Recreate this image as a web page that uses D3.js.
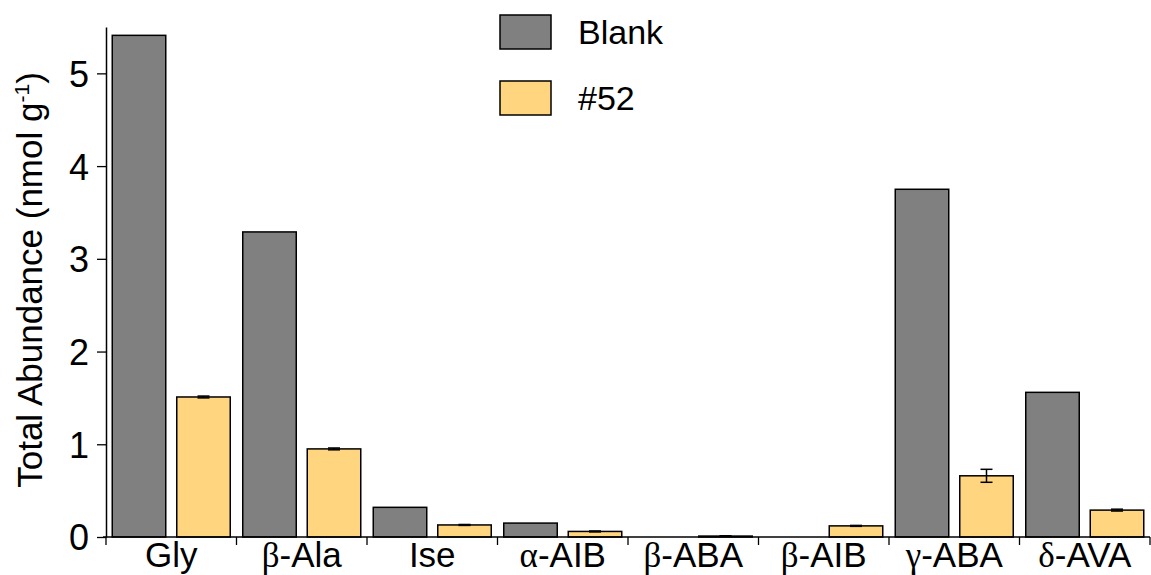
<!DOCTYPE html>
<html>
<head>
<meta charset="utf-8">
<script src="https://cdn.jsdelivr.net/npm/d3@7"></script>
<style>
  body { margin: 0; background: #fff; }
  svg { display: block; font-family: "Liberation Sans", Arial, sans-serif; }
</style>
</head>
<body>
<div id="chart"></div>
<script>
var w = 1151, h = 575;
var margin = {left: 106, right: 1, top: 27, bottom: 38};

// data
var categories = ["Gly", "β-Ala", "Ise", "α-AIB", "β-ABA", "β-AIB", "γ-ABA", "δ-AVA"];
var series = ["Blank", "#52"];
var blankVals = [5.41, 3.29, 0.32, 0.15, 0, 0, 3.75, 1.56];
var s52Vals   = [1.51, 0.95, 0.13, 0.06, 0.01, 0.12, 0.66, 0.29];
var s52Err    = [0.01, 0.01, 0.005, 0.005, 0.003, 0.005, 0.07, 0.01];
var yTicks = [0, 1, 2, 3, 4, 5];
var colors = ["#808080", "#FFD57F"];

var svg = d3.select("#chart").append("svg")
    .attr("width", w).attr("height", h);

var x = d3.scaleBand()
    .domain(categories)
    .range([margin.left, w - margin.right]);

var y = d3.scaleLinear()
    .domain([0, 5.5])
    .range([h - margin.bottom, margin.top]);

var barW = 53.5, gap = 11;
var offsets = [x.bandwidth() / 2 - gap / 2 - barW, x.bandwidth() / 2 + gap / 2];

// bars
var allVals = [blankVals, s52Vals];
allVals.forEach(function(vals, si) {
    var pts = vals.map(function(v, i) { return {cat: categories[i], v: v}; })
        .filter(function(d) { return d.v > 0; });
    svg.append("g").selectAll("rect")
        .data(pts)
        .enter()
        .append("rect")
        .attr("x", function(d) { return x(d.cat) + offsets[si]; })
        .attr("y", function(d) { return y(d.v); })
        .attr("width", barW)
        .attr("height", function(d) { return y(0) - y(d.v); })
        .attr("fill", colors[si])
        .attr("stroke", "#000")
        .attr("stroke-width", 1.5);
});

// error bars on #52
var eb = svg.append("g").attr("stroke", "#000").attr("stroke-width", 1.5);
s52Vals.forEach(function(v, i) {
    var cx = x(categories[i]) + offsets[1] + barW / 2;
    var e = s52Err[i];
    eb.append("line").attr("x1", cx).attr("x2", cx).attr("y1", y(v - e)).attr("y2", y(v + e));
    eb.append("line").attr("x1", cx - 6).attr("x2", cx + 6).attr("y1", y(v + e)).attr("y2", y(v + e));
    eb.append("line").attr("x1", cx - 6).attr("x2", cx + 6).attr("y1", y(v - e)).attr("y2", y(v - e));
});

// y axis with minor ticks
var yAxis = svg.append("g")
    .attr("transform", "translate(" + margin.left + ",0)")
    .call(d3.axisLeft(y).tickValues(d3.range(0, 5.51, 0.1)).tickSize(5).tickFormat(""));
yAxis.call(d3.axisLeft(y).tickValues(yTicks).tickSize(9).tickSizeOuter(0).tickFormat(d3.format("d")));
yAxis.selectAll("path").attr("stroke-width", 1.5);
yAxis.selectAll("line").attr("stroke-width", 1.3);
yAxis.selectAll("text").attr("font-size", 36).attr("font-family", "Liberation Sans, Arial, sans-serif")
    .attr("fill", "#000").attr("x", -17).attr("dy", "0.36em");

// x axis
var xAxis = svg.append("g")
    .attr("transform", "translate(0," + y(0) + ")");
xAxis.append("line")
    .attr("x1", margin.left - 3).attr("x2", w - margin.right)
    .attr("stroke", "#000").attr("stroke-width", 1.5);
xAxis.selectAll("line.tk")
    .data(categories.concat(["end"]))
    .enter().append("line")
    .attr("class", "tk")
    .attr("x1", function(d, i) { return margin.left + i * x.step(); })
    .attr("x2", function(d, i) { return margin.left + i * x.step(); })
    .attr("y1", 0).attr("y2", 8)
    .attr("stroke", "#000").attr("stroke-width", 1.3);

var xl = xAxis.selectAll("text")
    .data(categories)
    .enter().append("text")
    .attr("x", function(d) { return x(d) + x.bandwidth() / 2; })
    .attr("y", 30)
    .attr("text-anchor", "middle")
    .attr("font-size", 35)
    .attr("fill", "#000");
xl.each(function(d) {
    var t = d3.select(this);
    var greek = /^[αβγδ]/.test(d);
    if (greek) {
        t.append("tspan").attr("font-family", "Liberation Serif, Times New Roman, serif").text(d[0]);
        t.append("tspan").text(d.slice(1));
    } else {
        t.text(d);
    }
});

// y label
var yl = svg.append("text")
    .attr("transform", "translate(42," + 280 + ") rotate(-90)")
    .attr("text-anchor", "middle")
    .attr("font-size", 35)
    .attr("fill", "#000");
yl.append("tspan").text("Total Abundance (nmol g");
yl.append("tspan").attr("font-size", 21).attr("dy", -13).text("-1");
yl.append("tspan").attr("dy", 13).text(")");

// legend
var lg = svg.append("g");
series.forEach(function(s, i) {
    lg.append("rect")
        .attr("x", 500).attr("y", 15 + i * 66)
        .attr("width", 51).attr("height", 34)
        .attr("fill", colors[i]).attr("stroke", "#000").attr("stroke-width", 1.5);
    lg.append("text")
        .attr("x", 578).attr("y", 32 + i * 66).attr("dy", "0.36em")
        .attr("font-size", 34).attr("fill", "#000")
        .text(s);
});
</script>
</body>
</html>
